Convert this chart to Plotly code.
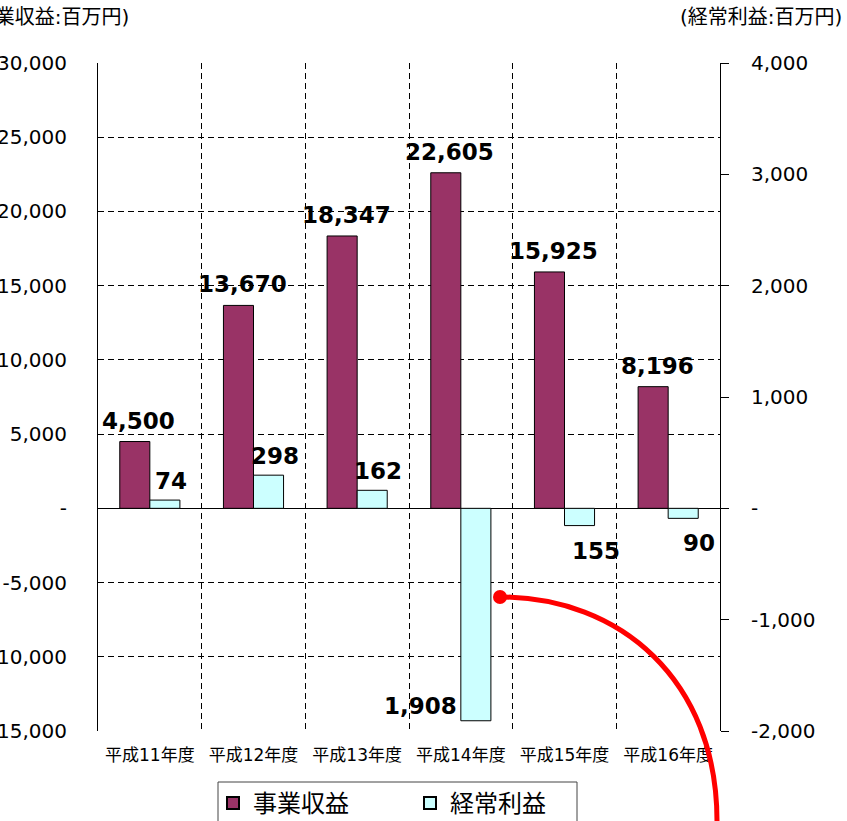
import plotly.graph_objects as go

categories = ["平成11年度", "平成12年度", "平成13年度", "平成14年度", "平成15年度", "平成16年度"]
revenue = [4500, 13670, 18347, 22605, 15925, 8196]          # 事業収益 (百万円)
ordinary_profit = [74, 298, 162, -1908, -155, -90]          # 経常利益 (百万円)

left_ticks = [30000, 25000, 20000, 15000, 10000, 5000, 0, -5000, -10000, -15000]
right_ticks = [4000, 3000, 2000, 1000, 0, -1000, -2000]

def fmt(v):
    return "-" if v == 0 else f"{v:,}"

FONT = "DejaVu Sans, Noto Sans CJK JP"
W, H = 847, 821
L, R, T, B = 98, 127, 63, 90
PW, PH = W - L - R, H - T - B
HALF_BAR = 0.145 * PW / 6   # half bar width in px (for label centring)

def px(x, y):
    return (x - L) / PW, (H - B - y) / PH

LABEL_FONT = dict(family=FONT, size=23, color="black", weight="bold")

fig = go.Figure()
fig.add_trace(go.Bar(
    x=categories, y=revenue, name="事業収益", yaxis="y",
    width=0.29, offset=-0.29,
    marker=dict(color="#993366", line=dict(color="black", width=1)),
    cliponaxis=False,
))
fig.add_trace(go.Bar(
    x=categories, y=ordinary_profit, name="経常利益", yaxis="y2",
    width=0.29, offset=0.0,
    marker=dict(color="#CCFFFF", line=dict(color="black", width=1)),
    cliponaxis=False,
))

# data labels
for c, v in zip(categories, revenue):
    fig.add_annotation(x=c, y=v, xref="x", yref="y", text=f"{v:,}", showarrow=False,
                       xanchor="center", yanchor="bottom", xshift=-HALF_BAR + 4, yshift=6,
                       font=LABEL_FONT)

big_idx = min(range(len(ordinary_profit)), key=lambda i: ordinary_profit[i])
for i, (c, v) in enumerate(zip(categories, ordinary_profit)):
    txt = f"{abs(v):,}"
    if i == big_idx:
        fig.add_annotation(x=c, y=v, xref="x", yref="y2", text=txt, showarrow=False,
                           xanchor="right", yanchor="bottom", xshift=-2, font=LABEL_FONT)
    elif v >= 0:
        fig.add_annotation(x=c, y=v, xref="x", yref="y2", text=txt, showarrow=False,
                           xanchor="center", yanchor="bottom", xshift=HALF_BAR + 6, yshift=4,
                           font=LABEL_FONT)
    else:
        fig.add_annotation(x=c, y=v, xref="x", yref="y2", text=txt, showarrow=False,
                           xanchor="center", yanchor="top", xshift=HALF_BAR + 16, yshift=-10,
                           font=LABEL_FONT)

fig.add_annotation(x=px(131, 0)[0], y=px(0, 17)[1], xref="paper", yref="paper",
                   text="(事業収益:百万円)", showarrow=False, xanchor="right", yanchor="middle",
                   font=dict(family=FONT, size=20, color="black"))
fig.add_annotation(x=px(844, 0)[0], y=px(0, 17)[1], xref="paper", yref="paper",
                   text="(経常利益:百万円)", showarrow=False, xanchor="right", yanchor="middle",
                   font=dict(family=FONT, size=20, color="black"))

# red decorative curve
p0, p1, p2, p3 = px(500, 597), px(620, 597), px(717, 680), px(717, 821)
fig.add_shape(type="path", xref="paper", yref="paper",
              path=f"M {p0[0]},{p0[1]} C {p1[0]},{p1[1]} {p2[0]},{p2[1]} {p3[0]},{p3[1]}",
              line=dict(color="red", width=5))
c0, c1 = px(493, 604), px(507, 590)
fig.add_shape(type="circle", xref="paper", yref="paper",
              x0=c0[0], y0=c0[1], x1=c1[0], y1=c1[1],
              fillcolor="red", line=dict(color="red", width=0))

# legend frame
b0, b1 = px(218, 782), px(577, 835)
fig.add_shape(type="rect", xref="paper", yref="paper", x0=b0[0], y0=b1[1], x1=b1[0], y1=b0[1],
              line=dict(color="#444", width=1), fillcolor="rgba(0,0,0,0)")

grid = dict(showgrid=True, gridcolor="black", gridwidth=1, griddash="6px,4px")

fig.update_layout(
    width=W, height=H, autosize=False,
    margin=dict(l=L, r=R, t=T, b=B, pad=0, autoexpand=False),
    paper_bgcolor="white", plot_bgcolor="white",
    font=dict(family=FONT, color="black"),
    barmode="overlay",
    showlegend=True,
    legend=dict(orientation="h", x=px(213, 0)[0], xanchor="left", y=px(0, 781)[1], yanchor="top",
                borderwidth=0, bgcolor="rgba(0,0,0,0)", font=dict(family=FONT, size=24),
                entrywidth=152, itemsizing="constant"),
    xaxis=dict(type="category", tickson="boundaries", ticks="", showline=False, automargin=False,
               tickfont=dict(family=FONT, size=17), ticklabelstandoff=12, **grid),
    yaxis=dict(range=[-15000, 30000], tickvals=left_ticks, ticktext=[fmt(v) for v in left_ticks],
               showline=True, linecolor="black", linewidth=1, ticks="", automargin=False,
               zeroline=True, zerolinecolor="black", zerolinewidth=1,
               tickfont=dict(family=FONT, size=20), ticklabelstandoff=26, **grid),
    yaxis2=dict(range=[-2000, 4000], overlaying="y", side="right", automargin=False,
                tickvals=right_ticks, ticktext=[fmt(v) for v in right_ticks],
                showline=True, linecolor="black", linewidth=1, ticks="outside", ticklen=8,
                tickcolor="black", showgrid=False, zeroline=False,
                tickfont=dict(family=FONT, size=20), ticklabelstandoff=18),
)

fig.write_html("out.html")
